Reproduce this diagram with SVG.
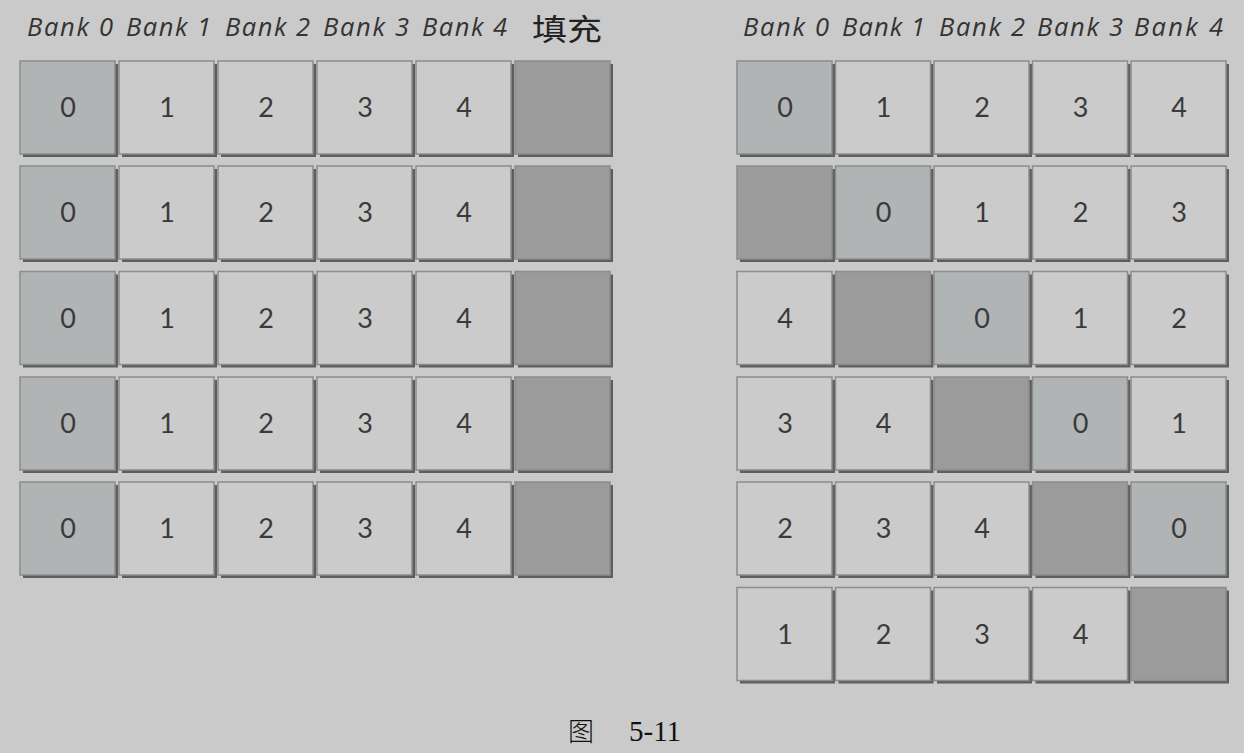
<svg xmlns="http://www.w3.org/2000/svg" width="1244" height="753" viewBox="0 0 1244 753">
<defs>
<style>
.bg{fill:#cacaca}
.sh{fill:#5e5e5e}
.c{stroke:#8c8c8c;stroke-width:1.5}
.l{fill:#cbcbcb}
.h{fill:#b1b4b4}
.d{fill:#9b9b9b}
.n{font-family:Lato,"Liberation Sans",sans-serif;font-size:27px;fill:#3a3a3a;text-anchor:middle}
.hd{font-family:"Open Sans","Liberation Sans",sans-serif;font-style:italic;font-size:25.5px;fill:#333}
.cj{font-family:"Noto Sans CJK SC",sans-serif;font-size:30px;fill:#222;font-weight:400}
.cap{font-family:"Liberation Serif","Noto Sans CJK SC",serif;font-size:29px;fill:#111}
</style>
</defs>
<rect class="bg" x="0" y="0" width="1244" height="753"/>
<g id="headers-left">
<text class="hd" x="27" y="36" textLength="86" lengthAdjust="spacing">Bank 0</text>
<text class="hd" x="126" y="36" textLength="85" lengthAdjust="spacing">Bank 1</text>
<text class="hd" x="225" y="36" textLength="85" lengthAdjust="spacing">Bank 2</text>
<text class="hd" x="323" y="36" textLength="86" lengthAdjust="spacing">Bank 3</text>
<text class="hd" x="422" y="36" textLength="85" lengthAdjust="spacing">Bank 4</text>
<text class="cj" x="532" y="40" textLength="70" lengthAdjust="spacingAndGlyphs">填充</text>
</g>
<g id="headers-right">
<text class="hd" x="743" y="36" textLength="86" lengthAdjust="spacing">Bank 0</text>
<text class="hd" x="842" y="36" textLength="83" lengthAdjust="spacing">Bank 1</text>
<text class="hd" x="939" y="36" textLength="86" lengthAdjust="spacing">Bank 2</text>
<text class="hd" x="1037" y="36" textLength="86" lengthAdjust="spacing">Bank 3</text>
<text class="hd" x="1134" y="36" textLength="89" lengthAdjust="spacing">Bank 4</text>
</g>
<g id="left-grid">
<g id="L00"><rect class="sh" x="23" y="64" width="95" height="93"/><rect class="c h" x="20" y="61" width="95" height="93"/><text class="n" x="68" y="117">0</text></g>
<g id="L01"><rect class="sh" x="122" y="64" width="95" height="93"/><rect class="c l" x="119" y="61" width="95" height="93"/><text class="n" x="167" y="117">1</text></g>
<g id="L02"><rect class="sh" x="221" y="64" width="95" height="93"/><rect class="c l" x="218" y="61" width="95" height="93"/><text class="n" x="266" y="117">2</text></g>
<g id="L03"><rect class="sh" x="320" y="64" width="95" height="93"/><rect class="c l" x="317" y="61" width="95" height="93"/><text class="n" x="365" y="117">3</text></g>
<g id="L04"><rect class="sh" x="419" y="64" width="95" height="93"/><rect class="c l" x="416" y="61" width="95" height="93"/><text class="n" x="464" y="117">4</text></g>
<g id="L05"><rect class="sh" x="518" y="64" width="95" height="93"/><rect class="c d" x="515" y="61" width="95" height="93"/></g>

<g id="L10"><rect class="sh" x="23" y="169" width="95" height="93"/><rect class="c h" x="20" y="166" width="95" height="93"/><text class="n" x="68" y="222">0</text></g>
<g id="L11"><rect class="sh" x="122" y="169" width="95" height="93"/><rect class="c l" x="119" y="166" width="95" height="93"/><text class="n" x="167" y="222">1</text></g>
<g id="L12"><rect class="sh" x="221" y="169" width="95" height="93"/><rect class="c l" x="218" y="166" width="95" height="93"/><text class="n" x="266" y="222">2</text></g>
<g id="L13"><rect class="sh" x="320" y="169" width="95" height="93"/><rect class="c l" x="317" y="166" width="95" height="93"/><text class="n" x="365" y="222">3</text></g>
<g id="L14"><rect class="sh" x="419" y="169" width="95" height="93"/><rect class="c l" x="416" y="166" width="95" height="93"/><text class="n" x="464" y="222">4</text></g>
<g id="L15"><rect class="sh" x="518" y="169" width="95" height="93"/><rect class="c d" x="515" y="166" width="95" height="93"/></g>

<g id="L20"><rect class="sh" x="23" y="274.5" width="95" height="93"/><rect class="c h" x="20" y="271.5" width="95" height="93"/><text class="n" x="68" y="327.5">0</text></g>
<g id="L21"><rect class="sh" x="122" y="274.5" width="95" height="93"/><rect class="c l" x="119" y="271.5" width="95" height="93"/><text class="n" x="167" y="327.5">1</text></g>
<g id="L22"><rect class="sh" x="221" y="274.5" width="95" height="93"/><rect class="c l" x="218" y="271.5" width="95" height="93"/><text class="n" x="266" y="327.5">2</text></g>
<g id="L23"><rect class="sh" x="320" y="274.5" width="95" height="93"/><rect class="c l" x="317" y="271.5" width="95" height="93"/><text class="n" x="365" y="327.5">3</text></g>
<g id="L24"><rect class="sh" x="419" y="274.5" width="95" height="93"/><rect class="c l" x="416" y="271.5" width="95" height="93"/><text class="n" x="464" y="327.5">4</text></g>
<g id="L25"><rect class="sh" x="518" y="274.5" width="95" height="93"/><rect class="c d" x="515" y="271.5" width="95" height="93"/></g>

<g id="L30"><rect class="sh" x="23" y="380" width="95" height="93"/><rect class="c h" x="20" y="377" width="95" height="93"/><text class="n" x="68" y="433">0</text></g>
<g id="L31"><rect class="sh" x="122" y="380" width="95" height="93"/><rect class="c l" x="119" y="377" width="95" height="93"/><text class="n" x="167" y="433">1</text></g>
<g id="L32"><rect class="sh" x="221" y="380" width="95" height="93"/><rect class="c l" x="218" y="377" width="95" height="93"/><text class="n" x="266" y="433">2</text></g>
<g id="L33"><rect class="sh" x="320" y="380" width="95" height="93"/><rect class="c l" x="317" y="377" width="95" height="93"/><text class="n" x="365" y="433">3</text></g>
<g id="L34"><rect class="sh" x="419" y="380" width="95" height="93"/><rect class="c l" x="416" y="377" width="95" height="93"/><text class="n" x="464" y="433">4</text></g>
<g id="L35"><rect class="sh" x="518" y="380" width="95" height="93"/><rect class="c d" x="515" y="377" width="95" height="93"/></g>

<g id="L40"><rect class="sh" x="23" y="485" width="95" height="93"/><rect class="c h" x="20" y="482" width="95" height="93"/><text class="n" x="68" y="538">0</text></g>
<g id="L41"><rect class="sh" x="122" y="485" width="95" height="93"/><rect class="c l" x="119" y="482" width="95" height="93"/><text class="n" x="167" y="538">1</text></g>
<g id="L42"><rect class="sh" x="221" y="485" width="95" height="93"/><rect class="c l" x="218" y="482" width="95" height="93"/><text class="n" x="266" y="538">2</text></g>
<g id="L43"><rect class="sh" x="320" y="485" width="95" height="93"/><rect class="c l" x="317" y="482" width="95" height="93"/><text class="n" x="365" y="538">3</text></g>
<g id="L44"><rect class="sh" x="419" y="485" width="95" height="93"/><rect class="c l" x="416" y="482" width="95" height="93"/><text class="n" x="464" y="538">4</text></g>
<g id="L45"><rect class="sh" x="518" y="485" width="95" height="93"/><rect class="c d" x="515" y="482" width="95" height="93"/></g>
</g>

<g id="right-grid">
<g id="R00"><rect class="sh" x="740" y="64" width="95" height="93"/><rect class="c h" x="737" y="61" width="95" height="93"/><text class="n" x="785" y="117">0</text></g>
<g id="R01"><rect class="sh" x="838.5" y="64" width="95" height="93"/><rect class="c l" x="835.5" y="61" width="95" height="93"/><text class="n" x="883.5" y="117">1</text></g>
<g id="R02"><rect class="sh" x="937" y="64" width="95" height="93"/><rect class="c l" x="934" y="61" width="95" height="93"/><text class="n" x="982" y="117">2</text></g>
<g id="R03"><rect class="sh" x="1035.5" y="64" width="95" height="93"/><rect class="c l" x="1032.5" y="61" width="95" height="93"/><text class="n" x="1080.5" y="117">3</text></g>
<g id="R04"><rect class="sh" x="1134" y="64" width="95" height="93"/><rect class="c l" x="1131" y="61" width="95" height="93"/><text class="n" x="1179" y="117">4</text></g>

<g id="R10"><rect class="sh" x="740" y="169" width="95" height="93"/><rect class="c d" x="737" y="166" width="95" height="93"/></g>
<g id="R11"><rect class="sh" x="838.5" y="169" width="95" height="93"/><rect class="c h" x="835.5" y="166" width="95" height="93"/><text class="n" x="883.5" y="222">0</text></g>
<g id="R12"><rect class="sh" x="937" y="169" width="95" height="93"/><rect class="c l" x="934" y="166" width="95" height="93"/><text class="n" x="982" y="222">1</text></g>
<g id="R13"><rect class="sh" x="1035.5" y="169" width="95" height="93"/><rect class="c l" x="1032.5" y="166" width="95" height="93"/><text class="n" x="1080.5" y="222">2</text></g>
<g id="R14"><rect class="sh" x="1134" y="169" width="95" height="93"/><rect class="c l" x="1131" y="166" width="95" height="93"/><text class="n" x="1179" y="222">3</text></g>

<g id="R20"><rect class="sh" x="740" y="274.5" width="95" height="93"/><rect class="c l" x="737" y="271.5" width="95" height="93"/><text class="n" x="785" y="327.5">4</text></g>
<g id="R21"><rect class="sh" x="838.5" y="274.5" width="95" height="93"/><rect class="c d" x="835.5" y="271.5" width="95" height="93"/></g>
<g id="R22"><rect class="sh" x="937" y="274.5" width="95" height="93"/><rect class="c h" x="934" y="271.5" width="95" height="93"/><text class="n" x="982" y="327.5">0</text></g>
<g id="R23"><rect class="sh" x="1035.5" y="274.5" width="95" height="93"/><rect class="c l" x="1032.5" y="271.5" width="95" height="93"/><text class="n" x="1080.5" y="327.5">1</text></g>
<g id="R24"><rect class="sh" x="1134" y="274.5" width="95" height="93"/><rect class="c l" x="1131" y="271.5" width="95" height="93"/><text class="n" x="1179" y="327.5">2</text></g>

<g id="R30"><rect class="sh" x="740" y="380" width="95" height="93"/><rect class="c l" x="737" y="377" width="95" height="93"/><text class="n" x="785" y="433">3</text></g>
<g id="R31"><rect class="sh" x="838.5" y="380" width="95" height="93"/><rect class="c l" x="835.5" y="377" width="95" height="93"/><text class="n" x="883.5" y="433">4</text></g>
<g id="R32"><rect class="sh" x="937" y="380" width="95" height="93"/><rect class="c d" x="934" y="377" width="95" height="93"/></g>
<g id="R33"><rect class="sh" x="1035.5" y="380" width="95" height="93"/><rect class="c h" x="1032.5" y="377" width="95" height="93"/><text class="n" x="1080.5" y="433">0</text></g>
<g id="R34"><rect class="sh" x="1134" y="380" width="95" height="93"/><rect class="c l" x="1131" y="377" width="95" height="93"/><text class="n" x="1179" y="433">1</text></g>

<g id="R40"><rect class="sh" x="740" y="485" width="95" height="93"/><rect class="c l" x="737" y="482" width="95" height="93"/><text class="n" x="785" y="538">2</text></g>
<g id="R41"><rect class="sh" x="838.5" y="485" width="95" height="93"/><rect class="c l" x="835.5" y="482" width="95" height="93"/><text class="n" x="883.5" y="538">3</text></g>
<g id="R42"><rect class="sh" x="937" y="485" width="95" height="93"/><rect class="c l" x="934" y="482" width="95" height="93"/><text class="n" x="982" y="538">4</text></g>
<g id="R43"><rect class="sh" x="1035.5" y="485" width="95" height="93"/><rect class="c d" x="1032.5" y="482" width="95" height="93"/></g>
<g id="R44"><rect class="sh" x="1134" y="485" width="95" height="93"/><rect class="c h" x="1131" y="482" width="95" height="93"/><text class="n" x="1179" y="538">0</text></g>

<g id="R50"><rect class="sh" x="740" y="590.5" width="95" height="93"/><rect class="c l" x="737" y="587.5" width="95" height="93"/><text class="n" x="785" y="643.5">1</text></g>
<g id="R51"><rect class="sh" x="838.5" y="590.5" width="95" height="93"/><rect class="c l" x="835.5" y="587.5" width="95" height="93"/><text class="n" x="883.5" y="643.5">2</text></g>
<g id="R52"><rect class="sh" x="937" y="590.5" width="95" height="93"/><rect class="c l" x="934" y="587.5" width="95" height="93"/><text class="n" x="982" y="643.5">3</text></g>
<g id="R53"><rect class="sh" x="1035.5" y="590.5" width="95" height="93"/><rect class="c l" x="1032.5" y="587.5" width="95" height="93"/><text class="n" x="1080.5" y="643.5">4</text></g>
<g id="R54"><rect class="sh" x="1134" y="590.5" width="95" height="93"/><rect class="c d" x="1131" y="587.5" width="95" height="93"/></g>
</g>

<g id="caption">
<text class="cap" x="568" y="741" style="font-family:'Noto Sans CJK SC',sans-serif;font-size:26px;font-weight:300">图</text>
<text class="cap" x="629" y="741">5-11</text>
</g>
</svg>
